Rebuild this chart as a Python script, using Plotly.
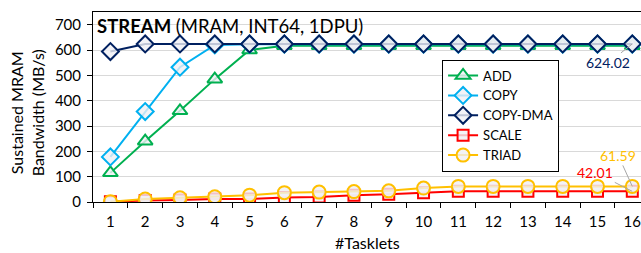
import plotly.graph_objects as go

tasklets = [str(i) for i in range(1, 17)]
add = [115, 240, 360, 485, 600, 617, 617, 617, 617, 617, 617, 617, 617, 617, 617, 617]
copy = [178, 357, 532, 620, 623, 623, 623, 623, 623, 623, 623, 623, 623, 623, 623, 623]
copy_dma = [594, 624, 624, 624, 624, 624, 624, 624, 624, 624, 624, 624, 624, 624, 624, 624.02]
scale = [1, 6, 8, 12, 12, 18, 20, 27, 31, 37, 42.01, 42.01, 42.01, 42.01, 42.01, 42.01]
triad = [1, 12, 17, 21, 27, 37, 39, 41, 44, 55, 61.59, 61.59, 61.59, 61.59, 61.59, 61.59]

FONT = "Lato"
fill = "rgba(240,240,245,0.8)"

series = [
    ("ADD", add, "#00B050", "triangle-up", 13),
    ("COPY", copy, "#00B0F0", "diamond", 13),
    ("COPY-DMA", copy_dma, "#002060", "diamond", 13),
    ("SCALE", scale, "#FF0000", "square", 11),
    ("TRIAD", triad, "#FFC000", "circle", 13),
]

fig = go.Figure()
for name, vals, col, sym, sz in series:
    fig.add_trace(go.Scatter(
        x=tasklets, y=vals, name=name, mode="lines+markers",
        line=dict(color=col, width=2),
        marker=dict(symbol=sym, size=sz, color=fill, line=dict(color=col, width=2)),
    ))

fig.update_layout(
    width=641, height=253,
    margin=dict(l=93, r=0, t=12, b=51, autoexpand=False),
    paper_bgcolor="white", plot_bgcolor="white",
    font=dict(family=FONT, size=15, color="#000000"),
    showlegend=True,
    legend=dict(
        x=0.637, y=0.455, xanchor="left", yanchor="middle",
        bgcolor="white", bordercolor="black", borderwidth=1,
        font=dict(family=FONT, size=13), tracegroupgap=0,
        itemwidth=30,
    ),
)
fig.update_xaxes(
    type="category", range=[-0.5, 15.25], automargin=False,
    showline=True, linecolor="black", linewidth=1, mirror=True,
    ticks="outside", ticklen=5, tickcolor="black", tickson="boundaries",
    showgrid=False, ticklabelstandoff=6,
    tickfont=dict(family=FONT, size=15),
)
fig.update_yaxes(
    range=[0, 750], tickvals=[0, 100, 200, 300, 400, 500, 600, 700], automargin=False,
    showline=True, linecolor="black", linewidth=1, mirror=True,
    ticks="outside", ticklen=5, tickcolor="black",
    showgrid=True, gridcolor="#D9D9D9", gridwidth=1,
    zeroline=False, ticklabelstandoff=3,
    tickfont=dict(family=FONT, size=15),
)

# axis titles
fig.add_annotation(
    xref="paper", yref="paper", x=0.5, y=-0.215, xanchor="center", yanchor="middle",
    text="#Tasklets", showarrow=False, font=dict(family=FONT, size=16, color="black"),
)
fig.add_annotation(
    xref="paper", yref="paper", x=-0.12, y=0.468, xanchor="center", yanchor="middle",
    text="Sustained MRAM<br>Bandwidth (MB/s)", showarrow=False, textangle=-90,
    font=dict(family=FONT, size=16, color="black"),
)

fig.add_annotation(
    xref="paper", yref="paper", x=0.0, y=1.0, xanchor="left", yanchor="top",
    xshift=2, yshift=-1,
    text="<b>STREAM</b> (MRAM, INT64, 1DPU)", showarrow=False,
    font=dict(family=FONT, size=18.5, color="black"),
)

labels = [
    (15, copy_dma[-1], "624.02", "#002060", -24, 19),
    (15, scale[-1], "42.01", "#FF0000", -37, -19),
    (15, triad[-1], "61.59", "#FFC000", -14, -31),
]
for xv, yv, txt, col, ax, ay in labels:
    fig.add_annotation(
        x=xv, y=yv, xref="x", yref="y", text=txt,
        showarrow=True, arrowhead=0, arrowwidth=1, arrowcolor="#A6A6A6",
        ax=ax, ay=ay, font=dict(family=FONT, size=14, color=col),
    )

fig.write_html(
    "out.html",
    config={"displayModeBar": False},
    post_script="document.body.style.margin='0';document.body.style.overflow='hidden';",
)
